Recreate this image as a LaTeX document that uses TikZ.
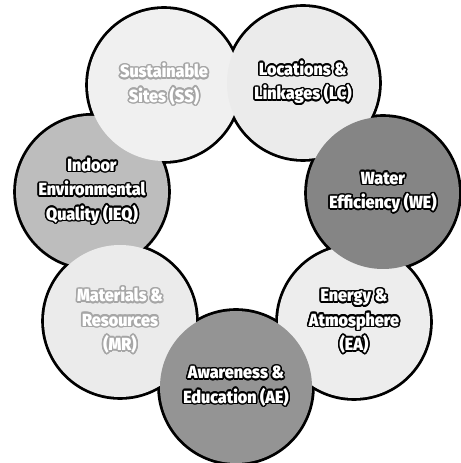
\documentclass[tikz,border=0pt]{standalone}
\usepackage{fontspec}
\usepackage[copies]{contour}
\usetikzlibrary{backgrounds}
\newfontfamily\credfont[FakeStretch=0.92]{Fira Sans Black}
\contourlength{1.1pt}
\newcommand{\darkrim}[1]{\contour{black}{#1}}
\newcommand{\palerim}[1]{\contour{black!35}{#1}}

\begin{document}
\begin{tikzpicture}[
    leaf/.style={circle, minimum size=3.8cm, inner sep=0pt, align=center,
      text=white, font=\credfont\fontsize{12.5}{17.4}\selectfont}
  ]
  \useasboundingbox (0,0) rectangle (11.525,11.575);
  % Sieben Kreise, von unten nach oben
  \node[leaf, fill=black!26] (ieq) at (2.3,6.78) {
    \darkrim{Indoor}\\
    \darkrim{Environmental}\\
    \darkrim{Quality (IEQ)}
  };
  \node[leaf, fill=black!6] (ss) at (4.1,9.45) {
    \palerim{Sustainable}\\
    \palerim{Sites (SS)}
  };
  \node[leaf, fill=black!8] (lc) at (7.575,9.5) {
    \darkrim{Locations \&}\\
    \darkrim{Linkages (LC)}
  };
  \node[leaf, fill=black!8] (mr) at (3.0,3.55) {
    \palerim{Materials \&}\\
    \palerim{Resources}\\
    \palerim{(MR)}
  };
  \node[leaf, fill=black!7] (ea) at (8.85,3.525) {
    \darkrim{Energy \&}\\
    \darkrim{Atmosphere}\\
    \darkrim{(EA)}
  };
  \node[leaf, fill=black!48] (we) at (9.575,6.75) {
    \darkrim{Water}\\
    \darkrim{Efficiency (WE)}
  };
  \node[leaf, fill=black!42] (ae) at (5.9,1.9) {
    \darkrim{Awareness \&}\\
    \darkrim{Education (AE)}
  };
  % Umrisse
  \begin{scope}[on background layer]
    \foreach \c in {ieq,ss,lc,mr,ea,we,ae}
      \draw[line width=4pt] (\c.center) circle (1.9cm);
  \end{scope}
\end{tikzpicture}
\end{document}
